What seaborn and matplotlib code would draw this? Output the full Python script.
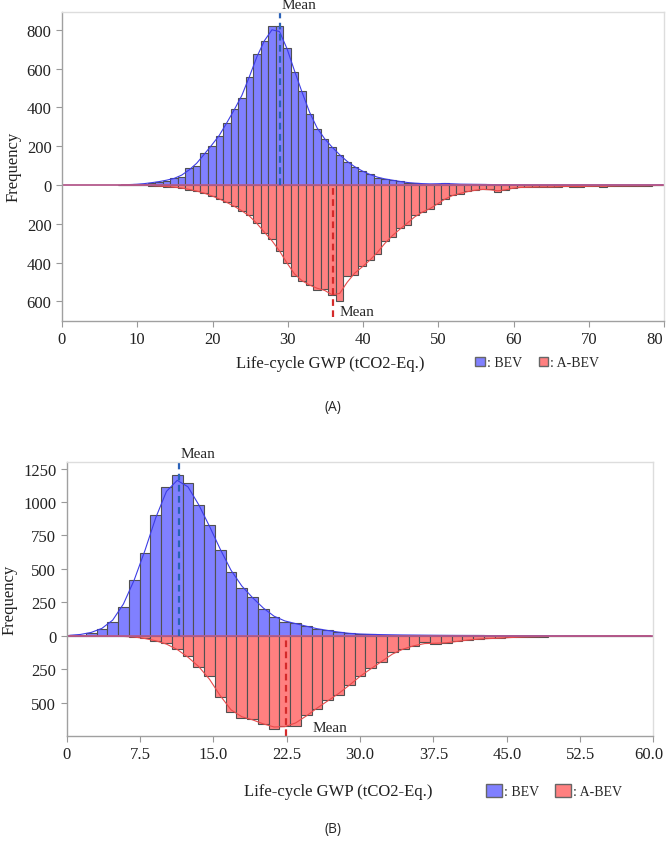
import numpy as np
import pandas as pd
import matplotlib
matplotlib.use("Agg")
import matplotlib.pyplot as plt
from matplotlib.patches import Patch
from matplotlib.ticker import FuncFormatter
from matplotlib.transforms import ScaledTranslation
import seaborn as sns

# ---- panel (A): bins of width 1, left edges 7.4 .. 79.4
edges_a = np.arange(7.4, 80.5, 1.0)
bev_a = [1, 2, 3, 6, 12, 17, 23, 36, 40, 87,
         97, 167, 203, 250, 320, 392, 450, 555, 674, 741,
         820, 820, 705, 583, 483, 365, 288, 236, 194, 156,
         118, 94, 70, 55, 38, 31, 25, 18, 12, 9,
         7, 5, 5, 10, 5, 4, 4, 3, 3, 2,
         2, 1, 1, 1, 0, 1, 0, 0, 1, 0,
         0, 1, 0, 0, 0, 1, 0, 0, 0, 0,
         0, 0, 1]
abev_a = [0, 0, 1, 2, 3, 5, 8, 12, 14, 24,
          30, 42, 55, 72, 90, 108, 135, 155, 195, 250,
          280, 340, 400, 470, 495, 515, 540, 535, 565, 600,
          472, 463, 420, 387, 358, 290, 268, 220, 205, 155,
          140, 125, 97, 72, 50, 46, 32, 28, 22, 20,
          38, 24, 16, 12, 12, 11, 9, 12, 9, 7,
          8, 10, 6, 5, 8, 5, 4, 6, 3, 5,
          4, 2, 2]
mean_bev_a = 29.0
mean_abev_a = 35.95
xticks_a = [0, 10, 20, 30, 40, 50, 60, 70, 80]
xticklabels_a = ["0", "10", "20", "30", "40", "50", "60", "70", "80"]
yticks_a = [-600, -400, -200, 0, 200, 400, 600, 800]

# ---- panel (B): bins of width 1.1, left edges -0.25 .. 59.15
edges_b = -0.25 + 1.1 * np.arange(56)
bev_b = [2, 8, 20, 50, 100, 216, 417, 617, 900, 1110,
         1200, 1140, 975, 830, 640, 480, 360, 290, 200, 140,
         105, 93, 72, 48, 42, 25, 17, 12, 10, 8,
         7, 5, 5, 4, 3, 3, 2, 2, 2, 1,
         1, 1, 1, 0, 1, 0, 0, 1, 0, 0,
         0, 0, 0, 0, 0]
abev_b = [0, 1, 2, 3, 4, 5, 7, 20, 37, 57,
          100, 155, 232, 305, 460, 570, 617, 620, 660, 698,
          675, 673, 590, 548, 480, 440, 370, 300, 245, 200,
          125, 100, 75, 50, 60, 55, 42, 32, 25, 20,
          20, 12, 10, 8, 6, 5, 4, 3, 3, 2,
          2, 1, 1, 1, 0]
mean_bev_b = 11.45
mean_abev_b = 22.42
xticks_b = [0, 7.5, 15, 22.5, 30, 37.5, 45, 52.5, 60]
xticklabels_b = ["0", "7.5", "15.0", "22.5", "30.0", "37.5", "45.0", "52.5", "60.0"]
yticks_b = [-500, -250, 0, 250, 500, 750, 1000, 1250]

BLUE = "#8080ff"
RED = "#ff8080"
EDGE = "#505050"

sns.set_style("white")
plt.rcParams["font.family"] = ["Liberation Serif", "DejaVu Serif"]


def draw_panel(ax, edges, bev, abev, m_bev, m_abev, xlim, ylim,
               xticks, xticklabels, yticks, red_end, red_txt_y, red_txt_dx,
               xlabel_pos, legend_pos, hsize, last_shift):
    centers = edges[:-1] + np.diff(edges) / 2
    df = pd.DataFrame({"gwp": centers,
                       "bev": np.asarray(bev, dtype=float),
                       "abev": -np.asarray(abev, dtype=float)})
    bins = list(edges)

    sns.histplot(data=df, x="gwp", weights="bev", bins=bins, ax=ax, color=BLUE,
                 edgecolor=EDGE, linewidth=0.8, alpha=1)
    sns.histplot(data=df, x="gwp", weights="abev", bins=bins, ax=ax, color=RED,
                 edgecolor=EDGE, linewidth=0.8, alpha=1)

    # smooth outline curves over the bars
    k = [0.25, 0.5, 0.25]
    df["bev_s"] = np.convolve(df["bev"], k, mode="same")
    df["abev_s"] = np.convolve(df["abev"], k, mode="same")
    sns.lineplot(data=df, x="gwp", y="bev_s", ax=ax, color="#3c3ce6", lw=0.8)
    sns.lineplot(data=df, x="gwp", y="abev_s", ax=ax, color="#e84a4a", lw=0.8)
    ax.axhline(0, color="#b45a8c", lw=1.3)

    # mean markers
    ax.vlines(m_bev, 0, ylim[1], colors="#2a62b8", linestyles=(0, (3, 2)), lw=1.6)
    ax.vlines(m_abev, red_end, 0, colors="#d42a2a", linestyles=(0, (3, 2)), lw=1.6)
    ax.annotate("Mean", xy=(m_bev, ylim[1]), xytext=(1, 1), textcoords="offset points",
                ha="left", va="bottom", fontsize=11, annotation_clip=False)
    ax.annotate("Mean", xy=(m_abev, red_txt_y), xytext=(red_txt_dx, 0),
                textcoords="offset points", ha="left", va="center", fontsize=11,
                annotation_clip=False)

    ax.set_xlim(*xlim)
    ax.set_ylim(*ylim)
    ax.set_xticks(xticks)
    ax.set_xticklabels(xticklabels)
    ax.set_yticks(yticks)
    ax.yaxis.set_major_formatter(FuncFormatter(lambda v, p: f"{abs(int(v))}"))
    ax.tick_params(axis="both", which="both", length=4, color="#999999",
                   labelsize=12, labelcolor="#222222", left=True, bottom=True)
    # keep the right-most tick label inside the figure
    last = ax.get_xticklabels()[-1]
    last.set_transform(last.get_transform()
                       + ScaledTranslation(-last_shift / 100, 0, ax.figure.dpi_scale_trans))

    for side in ["top", "right"]:
        ax.spines[side].set_color("#dddddd")
        ax.spines[side].set_linewidth(1.0)
    for side in ["left", "bottom"]:
        ax.spines[side].set_color("#a0a0a0")
        ax.spines[side].set_linewidth(1.0)

    ax.set_ylabel("Frequency", fontsize=12, color="#222222")
    ax.set_xlabel("Life-cycle GWP (tCO2-Eq.)", fontsize=12, color="#222222", va="center")
    ax.xaxis.set_label_coords(*xlabel_pos)

    handles = [Patch(facecolor=BLUE, edgecolor="#666666", lw=1.0, label=": BEV"),
               Patch(facecolor=RED, edgecolor="#666666", lw=1.0, label=": A-BEV")]
    ax.legend(handles=handles, loc="center left", bbox_to_anchor=legend_pos,
              ncol=2, frameon=False, fontsize=10, borderpad=0, borderaxespad=0,
              handlelength=hsize, handleheight=hsize, handletextpad=0.15,
              columnspacing=1.2)


fig = plt.figure(figsize=(6.66, 8.45), dpi=100)
ax_a = fig.add_axes([62 / 666, 1 - 321.7 / 845, 602 / 666, 308.7 / 845])
ax_b = fig.add_axes([66.7 / 666, 1 - 736.7 / 845, 586.8 / 666, 274 / 845])

draw_panel(ax_a, edges_a, bev_a, abev_a, mean_bev_a, mean_abev_a,
           (0, 80), (-700, 892), xticks_a, xticklabels_a, yticks_a,
           red_end=-682, red_txt_y=-650, red_txt_dx=5,
           xlabel_pos=(0.445, -0.137), legend_pos=(0.686, -0.137), hsize=0.7,
           last_shift=9)
draw_panel(ax_b, edges_b, bev_b, abev_b, mean_bev_b, mean_abev_b,
           (0, 60), (-748, 1302), xticks_b, xticklabels_b, yticks_b,
           red_end=-748, red_txt_y=-683, red_txt_dx=19,
           xlabel_pos=(0.462, -0.202), legend_pos=(0.715, -0.202), hsize=1.1,
           last_shift=5)

fig.text(0.5, 1 - 408 / 845, "(A)", ha="center", va="center", fontsize=10,
         family=["Open Sans", "DejaVu Sans"])
fig.text(0.5, 1 - 830 / 845, "(B)", ha="center", va="center", fontsize=10,
         family=["Open Sans", "DejaVu Sans"])

fig.savefig("out.png", dpi=100)
